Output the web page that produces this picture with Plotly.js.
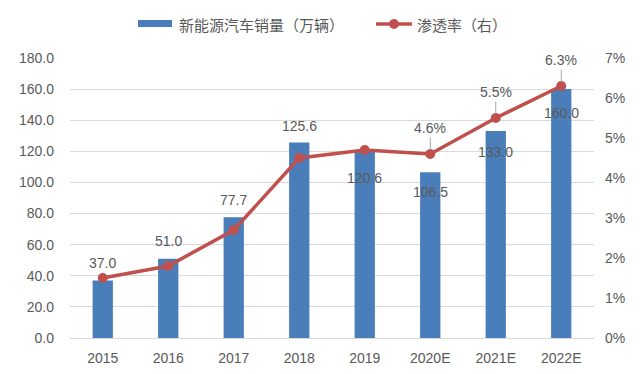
<!DOCTYPE html>
<html><head><meta charset="utf-8">
<script src="https://cdn.plot.ly/plotly-3.0.1.min.js"></script>
<style>html,body{margin:0;padding:0;background:#fff}#chart{width:640px;height:374px}</style>
</head><body><div id="chart"></div>
<script>
const categories = ['2015','2016','2017','2018','2019','2020E','2021E','2022E'];
const sales = [37.0, 51.0, 77.7, 125.6, 120.6, 106.5, 133.0, 160.0];
const penetration = [0.015, 0.018, 0.027, 0.045, 0.047, 0.046, 0.055, 0.063];
const salesLabelShift = [17, 18, 17, 17, -28, -20, -21, -24];
const rateLabelShown = [false, false, false, false, false, true, true, true];
const seriesNames = ['新能源汽车销量（万辆）', '渗透率（右）'];

const W = 640, H = 374, L = 70, R = 46, T = 58, B = 36;
const pw = W - L - R, ph = H - T - B;
const px = x => (x - L) / pw, py = y => (H - B - y) / ph;
const idx = categories.map((c, i) => i);

const blue = '#4a7ebb', red = '#c0504d', txt = '#595959';
const numFont = {family: 'Liberation Sans, Arial, sans-serif', size: 14, color: txt};
const cjk = 'Noto Sans CJK SC, sans-serif';

const traces = [
  {type: 'bar', x: idx, y: sales, name: seriesNames[0], marker: {color: blue}, width: 0.31, hoverinfo: 'skip'},
  {type: 'scatter', mode: 'lines+markers', x: idx, y: penetration, yaxis: 'y2', name: seriesNames[1],
   line: {color: red, width: 3.5}, marker: {color: red, size: 10}, hoverinfo: 'skip', cliponaxis: false}
];

const annotations = [];
idx.forEach(i => {
  annotations.push({x: i, y: sales[i], xref: 'x', yref: 'y', text: sales[i].toFixed(1), showarrow: false,
    xanchor: 'center', yanchor: 'middle',
    yshift: salesLabelShift[i], font: {family: numFont.family, size: 14, color: txt}});
  if (rateLabelShown[i]) {
    annotations.push({x: i, y: penetration[i], xref: 'x', yref: 'y2', text: (penetration[i]*100).toFixed(1) + '%',
      showarrow: true, ax: 0, ay: -26, arrowhead: 0, arrowwidth: 1, arrowcolor: '#a6a6a6', standoff: 4,
      font: {family: numFont.family, size: 14, color: txt}});
  }
});
annotations.push({xref: 'paper', yref: 'paper', x: px(177), y: py(24), xanchor: 'left', yanchor: 'middle',
  text: seriesNames[0], showarrow: false, font: {family: cjk, size: 15, color: txt}});
annotations.push({xref: 'paper', yref: 'paper', x: px(415), y: py(24), xanchor: 'left', yanchor: 'middle',
  text: seriesNames[1], showarrow: false, font: {family: cjk, size: 15, color: txt}});

const shapes = [
  {type: 'rect', xref: 'paper', yref: 'paper', x0: px(138), x1: px(172), y0: py(27), y1: py(20), fillcolor: blue, line: {width: 0}},
  {type: 'line', xref: 'paper', yref: 'paper', x0: px(376), x1: px(412), y0: py(24), y1: py(24), line: {color: red, width: 3.5}},
  {type: 'circle', xref: 'paper', yref: 'paper', x0: px(389), x1: px(399), y0: py(29), y1: py(19), fillcolor: red, line: {width: 0}}
];

const layout = {
  width: W, height: H, margin: {l: L, r: R, t: T, b: B, pad: 0},
  paper_bgcolor: '#fff', plot_bgcolor: '#fff', showlegend: false,
  xaxis: {type: 'linear', range: [-0.5, categories.length - 0.5], tickmode: 'array', tickvals: idx, ticktext: categories,
    tickfont: numFont, showline: true, linecolor: '#d9d9d9', linewidth: 1, ticks: '', showgrid: false, zeroline: false,
    ticklabelstandoff: 7, fixedrange: true},
  yaxis: {range: [0, 180], dtick: 20, tickformat: '.1f', tickfont: numFont, gridcolor: '#d9d9d9', gridwidth: 1,
    zeroline: false, showline: false, ticks: '', ticklabelstandoff: 15, fixedrange: true},
  yaxis2: {range: [0, 0.07], dtick: 0.01, tickformat: '.0%', tickfont: numFont, overlaying: 'y', side: 'right',
    showgrid: false, zeroline: false, showline: false, ticks: '', ticklabelstandoff: 10, fixedrange: true},
  annotations: annotations, shapes: shapes
};
Plotly.newPlot('chart', traces, layout, {staticPlot: true, displayModeBar: false});
</script></body></html>
